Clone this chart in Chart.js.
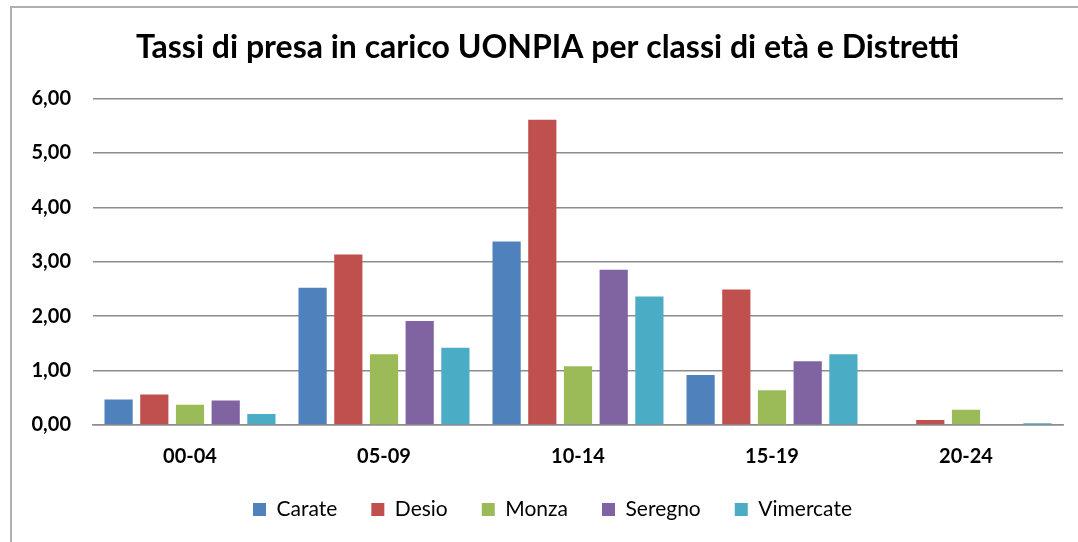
<!DOCTYPE html>
<html>
<head>
<meta charset="utf-8">
<script src="https://cdn.jsdelivr.net/npm/chart.js@4"></script>
<style>
  html, body { margin: 0; padding: 0; background: #fff; }
  #wrap { position: relative; width: 1078px; height: 542px; }
  #frame {
    position: absolute; left: 10px; top: 6px; right: -4px; bottom: -4px;
    border: 2px solid #b0b0b0; pointer-events: none;
  }
  canvas { position: absolute; left: 0; top: 0; }
</style>
</head>
<body>
<div id="wrap">
  <canvas id="chart" width="1078" height="542"></canvas>
  <div id="frame"></div>
</div>
<script>
// Age classes and district values (rates)
const classi    = ['00-04', '05-09', '10-14', '15-19', '20-24'];
const carate    = [0.47, 2.52, 3.37, 0.92, 0.00];
const desio     = [0.56, 3.13, 5.61, 2.49, 0.09];
const monza     = [0.37, 1.30, 1.08, 0.64, 0.28];
const seregno   = [0.45, 1.91, 2.85, 1.17, 0.00];
const vimercate = [0.20, 1.42, 2.36, 1.30, 0.03];
const yTicks    = [0, 1, 2, 3, 4, 5, 6];

const FONT = 'Lato, "Open Sans", sans-serif';

function ds(label, data, color) {
  return {
    label, data,
    backgroundColor: color,
    borderWidth: 0,
    barPercentage: 0.79,
    categoryPercentage: 0.92,
  };
}

// title and legend sit a bit right of the plot centre in the original
const shiftBlocks = {
  id: 'shiftBlocks',
  afterLayout(chart) {
    const move = (box, dx) => { if (box) { box.left += dx; box.right += dx; } };
    move(chart.titleBlock, 16);
    move(chart.legend, 21);
  },
};

new Chart(document.getElementById('chart'), {
  type: 'bar',
  data: {
    labels: classi,
    datasets: [
      ds('Carate', carate, '#4f81bd'),
      ds('Desio', desio, '#c0504d'),
      ds('Monza', monza, '#9bbb59'),
      ds('Seregno', seregno, '#8064a2'),
      ds('Vimercate', vimercate, '#4bacc6'),
    ],
  },
  plugins: [shiftBlocks],
  options: {
    responsive: false,
    animation: false,
    layout: { padding: { left: 0, right: 15, top: 0, bottom: 12 } },
    plugins: {
      title: {
        display: true,
        text: 'Tassi di presa in carico UONPIA per classi di età e Distretti',
        color: '#000',
        font: { family: FONT, size: 32, weight: 'bold' },
        padding: { top: 28, bottom: 32 },
      },
      legend: {
        position: 'bottom',
        labels: {
          color: '#000',
          font: { family: FONT, size: 21 },
          boxWidth: 13, boxHeight: 13,
          padding: 34,
        },
      },
      tooltip: { enabled: false },
    },
    scales: {
      x: {
        grid: { display: false, drawTicks: false },
        border: { display: true, color: '#8c8c8c', width: 1.5 },
        ticks: { color: '#000', font: { family: FONT, size: 20, weight: 'bold' }, padding: 20 },
        afterFit: (s) => { s.height = 40; },
      },
      y: {
        min: 0, max: 6,
        afterBuildTicks: (s) => { s.ticks = yTicks.map(v => ({ value: v })); },
        grid: { color: '#8c8c8c', lineWidth: 1.5, drawTicks: false },
        border: { display: false },
        ticks: {
          color: '#000',
          font: { family: FONT, size: 20, weight: 'bold' },
          padding: 22,
          callback: (v) => v.toFixed(2).replace('.', ','),
        },
        afterFit: (s) => { s.width = 93; },
      },
    },
  },
});
</script>
</body>
</html>
